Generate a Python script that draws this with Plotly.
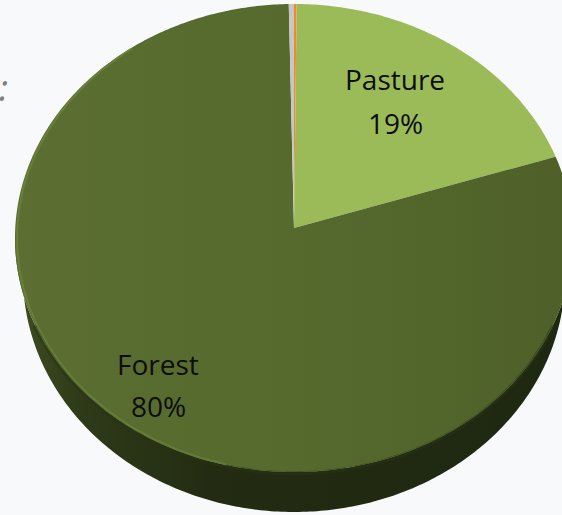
import numpy as np
import plotly.graph_objects as go

# Land-use shares (percent of total area), clockwise from 12 o'clock
categories = ["Cropland", "Pasture", "Forest", "Other"]
shares = [0.15, 19.2, 80.35, 0.3]
colors = ["#f08a30", "#9bbb59", "#576a2f", "#c6c6c6"]
labelled = {"Pasture": [(395, 79), (395, 123)], "Forest": [(158, 364), (158, 406)]}

W, H = 562, 515
# tilted pie: elliptical top face, apex a little above the ellipse centre
CX, CY, RX, RY = 294, 238, 279, 234
APEX_X, APEX_Y = 294, 228
# bottom face seen in perspective: slightly narrower and lower
BCX, BCY, BRX, BRY = 294, 276, 271, 236


def rim(t):
    return CX + RX * np.sin(t), CY - RY * np.cos(t)


def base_rim(t):
    return BCX + BRX * np.sin(t), BCY - BRY * np.cos(t)


total = float(sum(shares))
bounds = np.concatenate([[0.0], np.cumsum(shares)]) / total * 2 * np.pi

fig = go.Figure()

# side wall of the disc (front half)
t = np.linspace(np.pi / 2, 3 * np.pi / 2, 240)
xs, ys = rim(t)
bxs, bys = base_rim(t)
fig.add_trace(go.Scatter(
    x=np.r_[xs, bxs[::-1]], y=np.r_[ys, bys[::-1]],
    fill="toself", mode="none", hoverinfo="skip", showlegend=False,
    fillgradient=dict(type="horizontal",
                      colorscale=[[0, "#3e4d20"], [0.12, "#2e3a18"],
                                  [0.35, "#232c12"], [1, "#1e2710"]]),
))

# top face slices
for name, share, col, a0, a1 in zip(categories, shares, colors, bounds[:-1], bounds[1:]):
    n = max(3, int((a1 - a0) / (2 * np.pi) * 600))
    tt = np.linspace(a0, a1, n)
    px, py = rim(tt)
    kw = dict(fillcolor=col)
    if name == "Forest":
        kw = dict(fillgradient=dict(type="horizontal",
                                    colorscale=[[0, "#5c6e31"], [0.5, "#566a2e"], [1, "#4e6028"]]))
    fig.add_trace(go.Scatter(
        x=np.r_[APEX_X, px, APEX_X], y=np.r_[APEX_Y, py, APEX_Y],
        fill="toself", mode="none", hoveron="fills", showlegend=False,
        name=name, text=f"{name}: {share / total * 100:.1f}%", hoverinfo="text", **kw,
    ))

# soft shadow where the top face meets the front wall
te = np.linspace(np.pi * 0.62, np.pi * 1.38, 200)
ex, ey = rim(te)
fig.add_trace(go.Scatter(x=ex, y=ey + 1.5, mode="lines", hoverinfo="skip", showlegend=False,
                         line=dict(color="rgba(40,52,20,0.5)", width=4)))
# light bevel on the left rim
tb = np.linspace(np.pi * 1.08, np.pi * 1.8, 160)
bx, by = rim(tb)
fig.add_trace(go.Scatter(x=bx + 2, y=by, mode="lines", hoverinfo="skip", showlegend=False,
                         line=dict(color="rgba(110,135,60,0.7)", width=2)))

font = dict(family="Open Sans", size=28, color="#0d0d0d")
for name, share in zip(categories, shares):
    if name in labelled:
        (x1, y1), (x2, y2) = labelled[name]
        fig.add_annotation(x=x1, y=y1, text=name, showarrow=False, font=font,
                           xanchor="center", yanchor="middle")
        fig.add_annotation(x=x2, y=y2, text=f"{round(share / total * 100)}%", showarrow=False,
                           font=font, xanchor="center", yanchor="middle")

# trailing punctuation of the chart heading
fig.add_annotation(xref="paper", yref="paper", x=0, y=1 - 88 / H, xshift=-3,
                   text="<i>:</i>", showarrow=False, xanchor="left", yanchor="middle",
                   font=dict(family="Open Sans", size=36, color="#7f7f7f"))

fig.update_layout(
    width=W, height=H, margin=dict(l=0, r=0, t=0, b=0),
    paper_bgcolor="#f8f9fb", plot_bgcolor="#f8f9fb",
    xaxis=dict(range=[0, W], visible=False, fixedrange=True),
    yaxis=dict(range=[H, 0], visible=False, fixedrange=True),
    showlegend=False,
)

fig.write_html("out.html")
